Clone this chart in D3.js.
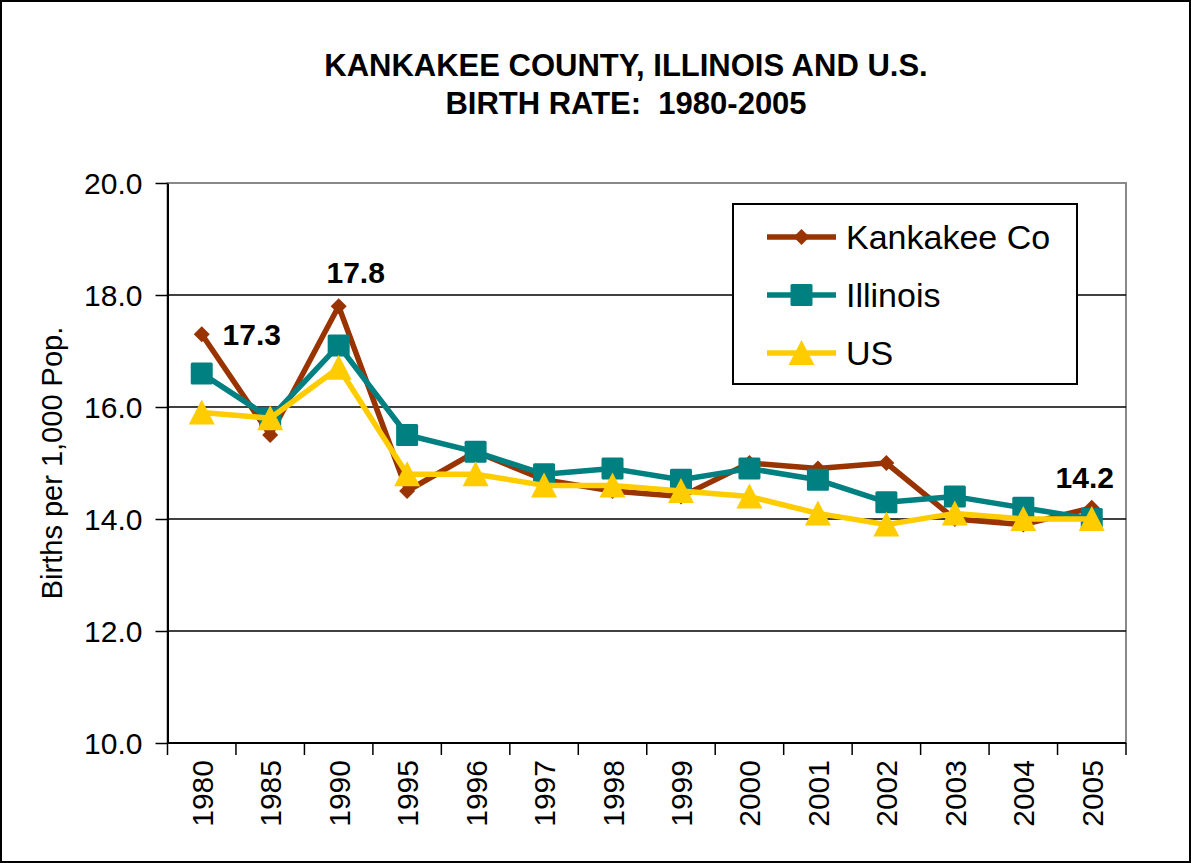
<!DOCTYPE html>
<html>
<head>
<meta charset="utf-8">
<script src="https://cdn.jsdelivr.net/npm/d3@7"></script>
<style>
  body { margin: 0; background: #fff; }
  text { font-family: "Liberation Sans", Arial, sans-serif; }
</style>
</head>
<body>
<script>
// data
var years = ['1980','1985','1990','1995','1996','1997','1998','1999','2000','2001','2002','2003','2004','2005']
var kankakee = [17.3,15.5,17.8,14.5,15.2,14.7,14.5,14.4,15.0,14.9,15.0,14.0,13.9,14.2]
var illinois = [16.6,15.8,17.1,15.5,15.2,14.8,14.9,14.7,14.9,14.7,14.3,14.4,14.2,14.0]
var us = [15.9,15.8,16.7,14.8,14.8,14.6,14.6,14.5,14.4,14.1,13.9,14.1,14.0,14.0]
var yTicks = [10,12,14,16,18,20]
var seriesNames = ['Kankakee Co','Illinois','US']
var pointLabels = [{series: 0, idx: 0, text: '17.3'}, {series: 0, idx: 2, text: '17.8'}, {series: 0, idx: 13, text: '14.2'}]

function plot_it() {
    var svgWidth = 1191, svgHeight = 863
    var left = 167.5, right = 1126, top = 183, bottom = 743
    var svg = d3.select('body').append('svg').attr('width', svgWidth).attr('height', svgHeight).attr('id', 'svg0')

    // outer frame
    svg.append('rect').attr('x', 1).attr('y', 1).attr('width', svgWidth - 2).attr('height', svgHeight - 2)
        .attr('fill', '#fff').attr('stroke', '#000').attr('stroke-width', 2)

    var x = d3.scaleBand().domain(years).range([left, right])
    var y = d3.scaleLinear().domain([10, 20]).range([bottom, top])
    var cx = d => x(d) + x.bandwidth() / 2

    // plot area border (grey top/right)
    svg.append('rect').attr('x', left).attr('y', top).attr('width', right - left).attr('height', bottom - top)
        .attr('fill', 'none').attr('stroke', '#888').attr('stroke-width', 2)

    // gridlines
    svg.append('g').selectAll('line').data(yTicks.filter(t => t > 10 && t < 20)).enter().append('line')
        .attr('x1', left).attr('x2', right).attr('y1', d => y(d)).attr('y2', d => y(d))
        .attr('stroke', '#000').attr('stroke-width', 1.5)

    // y axis
    var yAxis = svg.append('g').attr('transform', 'translate(' + left + ',0)')
        .call(d3.axisLeft(y).tickValues(yTicks).tickFormat(d3.format('.1f')).tickSize(12).tickSizeOuter(0))
    yAxis.select('.domain').attr('stroke', '#000').attr('stroke-width', 2)
    yAxis.selectAll('.tick line').attr('stroke-width', 1.5)
    yAxis.selectAll('text').attr('font-size', '30px').attr('fill', '#000').attr('x', -25).attr('dy', '0.36em')

    // x axis (ticks on band edges)
    var xAxis = svg.append('g').attr('transform', 'translate(0,' + bottom + ')')
    xAxis.append('line').attr('x1', left).attr('x2', right).attr('stroke', '#000').attr('stroke-width', 2)
    xAxis.selectAll('.edge').data(years.concat(['end'])).enter().append('line').attr('class', 'edge')
        .attr('x1', (d, i) => i < years.length ? x(d) : right).attr('x2', (d, i) => i < years.length ? x(d) : right)
        .attr('y1', 0).attr('y2', 12).attr('stroke', '#000').attr('stroke-width', 1.5)
    xAxis.selectAll('.lab').data(years).enter().append('text').attr('class', 'lab')
        .attr('transform', d => 'translate(' + (cx(d) + 11) + ',17) rotate(-90)')
        .attr('text-anchor', 'end').attr('font-size', '30px').text(d => d)

    // axis title
    svg.append('text').attr('transform', 'translate(62,' + ((top + bottom) / 2) + ') rotate(-90)')
        .attr('text-anchor', 'middle').attr('font-size', '29px').text('Births per 1,000 Pop.')

    // title
    svg.append('text').attr('x', 626).attr('y', 76).attr('text-anchor', 'middle')
        .attr('font-size', '31px').attr('font-weight', 'bold').text('KANKAKEE COUNTY, ILLINOIS AND U.S.')
    svg.append('text').attr('x', 626).attr('y', 114).attr('text-anchor', 'middle')
        .attr('font-size', '31px').attr('font-weight', 'bold').attr('xml:space', 'preserve').text('BIRTH RATE:  1980-2005')

    var series = [
        {name: seriesNames[0], values: kankakee, color: '#993300', shape: 'diamond'},
        {name: seriesNames[1], values: illinois, color: '#008080', shape: 'square'},
        {name: seriesNames[2], values: us, color: '#FFCC00', shape: 'triangle'}
    ]

    function marker(g, shape, color) {
        if (shape == 'diamond') g.append('path').attr('d', 'M0,-8L8,0L0,8L-8,0Z').attr('fill', color)
        if (shape == 'square') g.append('rect').attr('x', -11).attr('y', -11).attr('width', 22).attr('height', 22).attr('rx', 1.5).attr('fill', color)
        if (shape == 'triangle') g.append('path').attr('d', 'M0,-13L13,12L-13,12Z').attr('fill', color)
    }

    var line0 = d3.line().x((d, i) => cx(years[i])).y(d => y(d))
    series.forEach(s => {
        svg.append('path').attr('d', line0(s.values)).attr('fill', 'none')
            .attr('stroke', s.color).attr('stroke-width', 5.5).attr('stroke-linejoin', 'round')
        s.values.forEach((v, i) => {
            var g = svg.append('g').attr('transform', 'translate(' + cx(years[i]) + ',' + y(v) + ')')
            marker(g, s.shape, s.color)
        })
    })

    // data labels
    var labelOffsets = [[50, 11], [17, -23], [-7, -20]]
    pointLabels.forEach((p, k) => {
        var v = series[p.series].values[p.idx]
        svg.append('text').attr('x', cx(years[p.idx]) + labelOffsets[k][0]).attr('y', y(v) + labelOffsets[k][1])
            .attr('text-anchor', 'middle').attr('font-size', '30px').attr('font-weight', 'bold').text(p.text)
    })

    // legend
    var lg = svg.append('g').attr('transform', 'translate(733,204)')
    lg.append('rect').attr('width', 344).attr('height', 180).attr('fill', '#fff').attr('stroke', '#000').attr('stroke-width', 2)
    series.forEach((s, i) => {
        var ry = 33 + i * 58
        lg.append('line').attr('x1', 34).attr('x2', 103).attr('y1', ry).attr('y2', ry)
            .attr('stroke', s.color).attr('stroke-width', 5.5)
        var g = lg.append('g').attr('transform', 'translate(68.5,' + ry + ')')
        marker(g, s.shape, s.color)
        lg.append('text').attr('x', 113).attr('y', ry + 12).attr('font-size', '34px').text(s.name)
    })
}
plot_it()
</script>
</body>
</html>
